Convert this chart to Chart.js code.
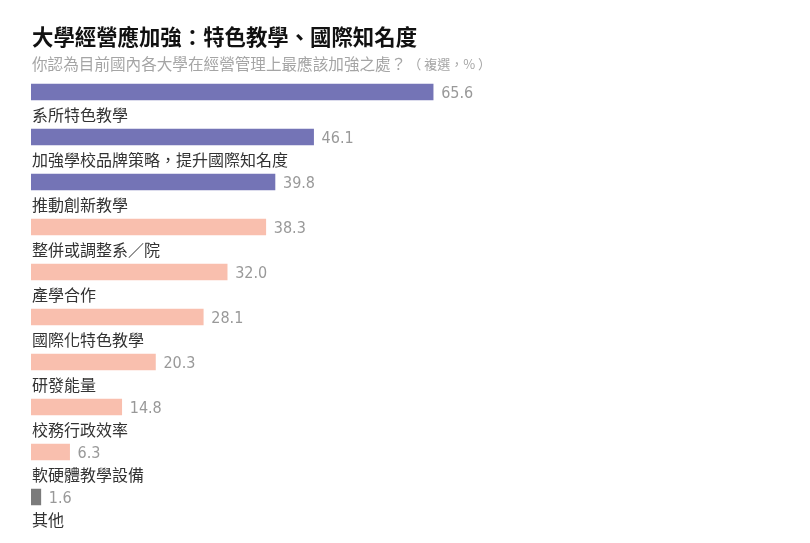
<!DOCTYPE html>
<html>
<head>
<meta charset="utf-8">
<script src="https://cdn.jsdelivr.net/npm/chart.js@4/dist/chart.umd.min.js"></script>
<style>
html,body{margin:0;padding:0;background:#fff;}
#wrap{position:relative;width:810px;height:543px;}
</style>
</head>
<body>
<div id="wrap"><canvas id="c" width="810" height="543"></canvas></div>
<script>
const categories = ["系所特色教學","加強學校品牌策略，提升國際知名度","推動創新教學","整併或調整系／院","產學合作","國際化特色教學","研發能量","校務行政效率","軟硬體教學設備","其他"];
const values = [65.6,46.1,39.8,38.3,32.0,28.1,20.3,14.8,6.3,1.6];
const colorGroups = ["top","top","top","mid","mid","mid","mid","mid","mid","other"];
const titleText = "大學經營應加強：特色教學、國際知名度";
const subtitleText = "你認為目前國內各大學在經營管理上最應該加強之處？";
const noteText = "（ 複選，% ）";

const palette = {top:"#7474b6", mid:"#f9bfae", other:"#7b7b7b"};
const FONT = "'Noto Sans CJK TC','Noto Sans',sans-serif";

const labelPlugin = {
  id:'labelPlugin',
  afterDatasetsDraw(chart){
    const ctx = chart.ctx;
    const meta = chart.getDatasetMeta(0);
    ctx.save();
    meta.data.forEach((bar,i)=>{
      ctx.font = "16px 'Liberation Sans Narrow','DejaVu Sans Condensed',sans-serif";
      ctx.fillStyle = "#999999";
      ctx.textAlign = "left";
      ctx.textBaseline = "middle";
      ctx.fillText(values[i].toFixed(1), bar.x + 8, bar.y + 2);
      ctx.font = "16px " + FONT;
      ctx.fillStyle = "#333";
      ctx.fillText(categories[i], chart.chartArea.left + 1, bar.y + 23);
    });
    // title & subtitle
    ctx.textBaseline = "alphabetic";
    ctx.font = "bold 21.4px " + FONT;
    ctx.fillStyle = "#111";
    ctx.fillText(titleText, 32, 45);
    ctx.font = "15.6px " + FONT;
    ctx.fillStyle = "#a5a5a5";
    ctx.fillText(subtitleText, 32, 70);
    const w = ctx.measureText(subtitleText).width;
    ctx.font = "13px " + FONT;
    ctx.fillText(noteText, 32 + w + 2, 69);
    ctx.restore();
  }
};

new Chart(document.getElementById('c'), {
  type:'bar',
  data:{
    labels: categories,
    datasets:[{
      data: values,
      backgroundColor: colorGroups.map(g=>palette[g]),
      borderWidth:0,
      barThickness:16
    }]
  },
  options:{
    indexAxis:'y',
    responsive:false,
    animation:false,
    layout:{padding:{left:31,right:166,top:69.5,bottom:23.5}},
    plugins:{legend:{display:false},tooltip:{enabled:false},title:{display:false}},
    scales:{
      x:{display:false,min:0,max:100},
      y:{display:false}
    }
  },
  plugins:[labelPlugin]
});
</script>
</body>
</html>
